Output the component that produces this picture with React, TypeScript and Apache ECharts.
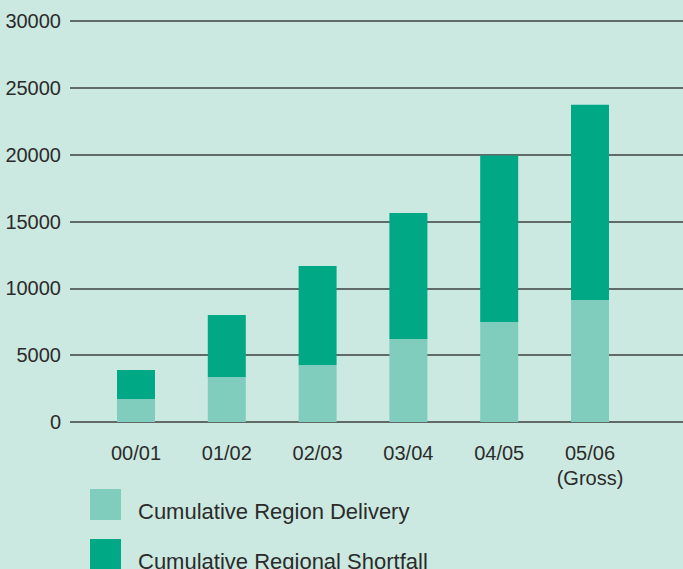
import React, { useEffect, useRef } from "react";
import * as echarts from "echarts";

const categories = ["00/01", "01/02", "02/03", "03/04", "04/05", "05/06\n(Gross)"];
const regionDelivery = [1720, 3370, 4270, 6210, 7490, 9130];
const regionalShortfall = [2170, 4640, 7410, 9430, 12440, 14600];
const yTicks = { min: 0, max: 30000, interval: 5000 };
const legendNames = ["Cumulative Region Delivery", "Cumulative Regional Shortfall"];

const FONT = '"Liberation Sans", Arial, sans-serif';
const TEXT = "#2b2b2b";

export default function App() {
  const ref = useRef<HTMLDivElement>(null);
  useEffect(() => {
    const chart = echarts.init(ref.current!, null, { renderer: "svg" });
    const legendBase = {
      orient: "vertical",
      left: 90,
      itemWidth: 31,
      itemHeight: 31,
      icon: "rect",
      selectedMode: false,
      padding: 0,
      formatter: "{t|{name}}",
      textStyle: {
        fontFamily: FONT,
        fontSize: 22,
        color: TEXT,
        rich: {
          t: { fontFamily: FONT, fontSize: 22, color: TEXT, padding: [14, 0, 0, 12] },
        },
      },
    };
    chart.setOption({
      animation: false,
      backgroundColor: "#cbe9e0",
      textStyle: { fontFamily: FONT, color: TEXT },
      grid: [
        { left: 70, right: 0, top: 21, height: 401, outerBoundsMode: "none", containLabel: false },
        { left: 90.6, width: 544.8, top: 21, height: 401, outerBoundsMode: "none", containLabel: false },
      ],
      xAxis: [
        { gridIndex: 0, type: "category", data: [""], show: false },
        {
          gridIndex: 1,
          type: "category",
          data: categories,
          axisLine: { show: false },
          axisTick: { show: false },
          axisLabel: {
            interval: 0,
            fontFamily: FONT,
            fontSize: 20,
            lineHeight: 25,
            color: TEXT,
            margin: 18,
          },
        },
      ],
      yAxis: [
        {
          gridIndex: 0,
          type: "value",
          min: yTicks.min,
          max: yTicks.max,
          interval: yTicks.interval,
          axisLine: { show: false },
          axisTick: { show: false },
          splitLine: { show: true, lineStyle: { color: "#3c3f3e", width: 1.6 } },
          axisLabel: {
            fontFamily: FONT,
            fontSize: 20,
            color: TEXT,
            margin: 9,
            formatter: (v: number) => String(v),
          },
        },
        {
          gridIndex: 1,
          type: "value",
          min: yTicks.min,
          max: yTicks.max,
          interval: yTicks.interval,
          show: false,
          splitLine: { show: false },
        },
      ],
      legend: [
        { ...legendBase, top: 489, data: [legendNames[0]] },
        { ...legendBase, top: 539, data: [legendNames[1]] },
      ],
      series: [
        {
          name: legendNames[0],
          type: "bar",
          stack: "total",
          xAxisIndex: 1,
          yAxisIndex: 1,
          barWidth: 38,
          itemStyle: { color: "#80cdbd" },
          data: regionDelivery,
        },
        {
          name: legendNames[1],
          type: "bar",
          stack: "total",
          xAxisIndex: 1,
          yAxisIndex: 1,
          barWidth: 38,
          itemStyle: { color: "#00a886" },
          data: regionalShortfall,
        },
      ],
    });
    return () => chart.dispose();
  }, []);
  return (
    <div
      ref={ref}
      style={{ position: "absolute", left: 0, top: 0, width: 683, height: 569 }}
    />
  );
}
